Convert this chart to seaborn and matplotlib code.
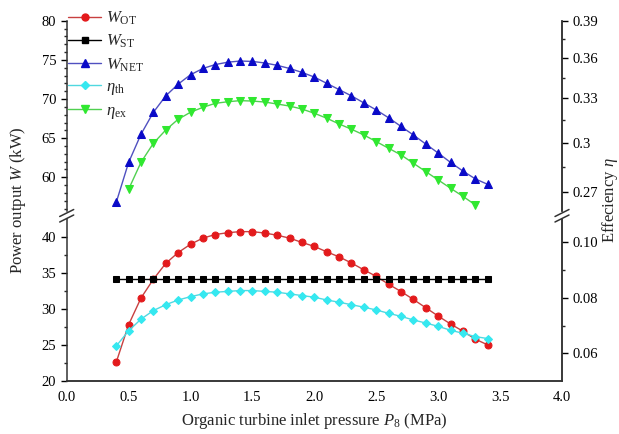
import matplotlib
matplotlib.use("Agg")
import matplotlib.pyplot as plt
from matplotlib.lines import Line2D
from matplotlib.ticker import FixedLocator, FixedFormatter, MultipleLocator, NullFormatter
import seaborn as sns
import pandas as pd

# ---- data ----
pressure = [0.4, 0.5, 0.6, 0.7, 0.8, 0.9, 1.0, 1.1, 1.2, 1.3, 1.4, 1.5, 1.6, 1.7, 1.8, 1.9,
            2.0, 2.1, 2.2, 2.3, 2.4, 2.5, 2.6, 2.7, 2.8, 2.9, 3.0, 3.1, 3.2, 3.3, 3.4]
pressure_ex = [0.5, 0.6, 0.7, 0.8, 0.9, 1.0, 1.1, 1.2, 1.3, 1.4, 1.5, 1.6, 1.7, 1.8, 1.9,
               2.0, 2.1, 2.2, 2.3, 2.4, 2.5, 2.6, 2.7, 2.8, 2.9, 3.0, 3.1, 3.2, 3.3]
W_OT = [22.6, 27.8, 31.5, 34.1, 36.3, 37.8, 38.95, 39.8, 40.3, 40.55, 40.7, 40.7, 40.5, 40.2,
        39.8, 39.2, 38.65, 37.9, 37.2, 36.35, 35.4, 34.5, 33.4, 32.4, 31.3, 30.15, 29.0, 27.9,
        26.9, 25.8, 25.0]
W_ST = [34.1, 34.1, 34.1, 34.1, 34.1, 34.1, 34.1, 34.1, 34.1, 34.1, 34.1, 34.1, 34.1, 34.1,
        34.1, 34.1, 34.1, 34.1, 34.1, 34.1, 34.1, 34.1, 34.1, 34.1, 34.1, 34.1, 34.1, 34.1,
        34.1, 34.1, 34.1]
W_NET = [56.8, 61.9, 65.5, 68.3, 70.4, 71.9, 73.1, 73.9, 74.4, 74.7, 74.85, 74.8, 74.6, 74.3,
         73.9, 73.4, 72.8, 72.0, 71.2, 70.4, 69.5, 68.6, 67.6, 66.5, 65.4, 64.25, 63.1, 61.9,
         60.8, 59.8, 59.1]
eta_th = [0.0626, 0.0681, 0.0723, 0.0754, 0.0775, 0.0792, 0.0804, 0.0814, 0.0820, 0.0823,
          0.0826, 0.0826, 0.0823, 0.0820, 0.0814, 0.0808, 0.0802, 0.0792, 0.0784, 0.0775,
          0.0766, 0.0756, 0.0744, 0.0733, 0.0720, 0.0709, 0.0697, 0.0683, 0.0672, 0.0660, 0.0653]
eta_ex = [0.2714, 0.2876, 0.2996, 0.3083, 0.3155, 0.3203, 0.3237, 0.3265, 0.3276, 0.3284,
          0.3281, 0.3274, 0.3260, 0.3246, 0.3225, 0.3196, 0.3162, 0.3123, 0.3088, 0.3050,
          0.3007, 0.2964, 0.2922, 0.2870, 0.2819, 0.2769, 0.2720, 0.2673, 0.2624]

x_ticks = [0.0, 0.5, 1.0, 1.5, 2.0, 2.5, 3.0, 3.5, 4.0]
upper_left_ticks = [60, 65, 70, 75, 80]
lower_left_ticks = [20, 25, 30, 35, 40]
upper_right_ticks = [0.27, 0.3, 0.33, 0.36, 0.39]
upper_right_labels = ["0.27", "0.3", "0.33", "0.36", "0.39"]
lower_right_ticks = [0.06, 0.08, 0.10]
lower_right_labels = ["0.06", "0.08", "0.10"]

# ---- style ----
sns.set_theme(style="white")
plt.rcParams["font.family"] = ["Liberation Serif", "DejaVu Serif"]
plt.rcParams["mathtext.fontset"] = "custom"
plt.rcParams["mathtext.rm"] = "Liberation Serif"
plt.rcParams["mathtext.it"] = "Liberation Serif:italic"
plt.rcParams["mathtext.bf"] = "Liberation Serif:bold"
plt.rcParams["axes.linewidth"] = 1.1

W_fig, H_fig = 619, 434
fig = plt.figure(figsize=(W_fig / 100, H_fig / 100), dpi=100)

x0, x1 = 66.7, 562.0
def fx(px):
    return px / W_fig
def fy(py):
    return 1 - py / H_fig

up_top, up_bot = 20.7, 211.0
lo_top, lo_bot = 219.0, 381.0
ax_up = fig.add_axes([fx(x0), fy(up_bot), fx(x1) - fx(x0), fy(up_top) - fy(up_bot)])
ax_lo = fig.add_axes([fx(x0), fy(lo_bot), fx(x1) - fx(x0), fy(lo_top) - fy(lo_bot)])
ax_up_r = ax_up.twinx()
ax_lo_r = ax_lo.twinx()

c_red, c_red_line = "#e31a1c", "#c84040"
c_blk = "#000000"
c_blu, c_blu_line = "#0a0ac8", "#5050c0"
c_cyn, c_cyn_line = "#35e8f0", "#50d8e0"
c_grn, c_grn_line = "#30e830", "#50d050"

df = pd.DataFrame({"P": pressure, "W_OT": W_OT, "W_ST": W_ST, "W_NET": W_NET, "eta_th": eta_th})
df_ex = pd.DataFrame({"P": pressure_ex, "eta_ex": eta_ex})

ms = 5
sns.lineplot(data=df, x="P", y="W_OT", ax=ax_lo, color=c_red_line, lw=1.0, marker="o",
             markersize=ms, markerfacecolor=c_red, markeredgecolor=c_red, zorder=3)
sns.lineplot(data=df, x="P", y="W_ST", ax=ax_lo, color=c_blk, lw=1.0, marker="s",
             markersize=ms - 0.5, markerfacecolor=c_blk, markeredgecolor=c_blk, zorder=3)
sns.lineplot(data=df, x="P", y="W_NET", ax=ax_up, color=c_blu_line, lw=1.0, marker="^",
             markersize=ms + 0.5, markerfacecolor=c_blu, markeredgecolor=c_blu, zorder=3)
sns.lineplot(data=df, x="P", y="eta_th", ax=ax_lo_r, color=c_cyn_line, lw=1.0, marker="D",
             markersize=ms - 0.5, markerfacecolor=c_cyn, markeredgecolor=c_cyn, zorder=3)
sns.lineplot(data=df_ex, x="P", y="eta_ex", ax=ax_up_r, color=c_grn_line, lw=1.0, marker="v",
             markersize=ms + 0.5, markerfacecolor=c_grn, markeredgecolor=c_grn, zorder=3)

for a in (ax_up, ax_lo, ax_up_r, ax_lo_r):
    a.set_xlim(0.0, 4.0)
    a.set_xlabel("")
    a.set_ylabel("")
    a.patch.set_alpha(0)
    a.tick_params(direction="out", length=4, width=1.0, labelsize=10.5, colors="black")
    a.tick_params(which="minor", direction="out", length=2.5, width=1.0)
    for s in a.spines.values():
        s.set_color("#333333")

# upper axes
ax_up.set_ylim(55.7, 80)
ax_up.yaxis.set_major_locator(FixedLocator(upper_left_ticks))
ax_up.yaxis.set_minor_locator(MultipleLocator(2.5))
ax_up.spines["top"].set_visible(False)
ax_up.spines["bottom"].set_visible(False)
ax_up.tick_params(axis="x", which="both", bottom=False, labelbottom=False)
ax_up.minorticks_on()
ax_up.tick_params(axis="x", which="minor", bottom=False)

ax_up_r.set_yscale("log")
ax_up_r.set_ylim(0.2590, 0.39)
ax_up_r.yaxis.set_major_locator(FixedLocator(upper_right_ticks))
ax_up_r.yaxis.set_major_formatter(FixedFormatter(upper_right_labels))
ax_up_r.yaxis.set_minor_locator(FixedLocator([0.285, 0.315, 0.345, 0.375]))
ax_up_r.yaxis.set_minor_formatter(NullFormatter())
ax_up_r.spines["top"].set_visible(False)
ax_up_r.spines["bottom"].set_visible(False)
ax_up_r.spines["left"].set_visible(False)
ax_up_r.tick_params(axis="x", which="both", bottom=False, labelbottom=False)

# lower axes
ax_lo.set_ylim(20, 42.45)
ax_lo.yaxis.set_major_locator(FixedLocator(lower_left_ticks))
ax_lo.yaxis.set_minor_locator(MultipleLocator(2.5))
ax_lo.xaxis.set_major_locator(FixedLocator(x_ticks))
ax_lo.xaxis.set_major_formatter(FixedFormatter([f"{v:.1f}" for v in x_ticks]))
ax_lo.xaxis.set_minor_locator(MultipleLocator(0.25))
ax_lo.spines["top"].set_visible(False)

ax_lo_r.set_ylim(0.05, 0.1084)
ax_lo_r.yaxis.set_major_locator(FixedLocator(lower_right_ticks))
ax_lo_r.yaxis.set_major_formatter(FixedFormatter(lower_right_labels))
ax_lo_r.yaxis.set_minor_locator(FixedLocator([0.07, 0.09]))
ax_lo_r.spines["top"].set_visible(False)
ax_lo_r.spines["left"].set_visible(False)
ax_lo_r.tick_params(axis="x", which="both", bottom=False)

# break marks
for xc in (x0, x1):
    for yc in (213.0, 218.5):
        fig.add_artist(Line2D([fx(xc - 7), fx(xc + 7)], [fy(yc + 3.5), fy(yc - 3.5)],
                              transform=fig.transFigure, color="#333333", lw=1.1))

# axis labels
fig.text(fx(314), fy(421), r"Organic turbine inlet pressure $P_{\rm 8}$ (MPa)",
         ha="center", va="center", fontsize=12)
fig.text(fx(18), fy(200), r"Power output $W$ (kW)", rotation=90,
         ha="center", va="center", fontsize=12)
fig.text(fx(610), fy(200), r"Effeciency $\eta$", rotation=90,
         ha="center", va="center", fontsize=12)

# legend
handles = [
    Line2D([], [], color=c_red_line, lw=1.0, marker="o", markersize=ms, markerfacecolor=c_red, markeredgecolor=c_red),
    Line2D([], [], color=c_blk, lw=1.0, marker="s", markersize=ms - 0.5, markerfacecolor=c_blk, markeredgecolor=c_blk),
    Line2D([], [], color=c_blu_line, lw=1.0, marker="^", markersize=ms + 0.5, markerfacecolor=c_blu, markeredgecolor=c_blu),
    Line2D([], [], color=c_cyn_line, lw=1.0, marker="D", markersize=ms - 0.5, markerfacecolor=c_cyn, markeredgecolor=c_cyn),
    Line2D([], [], color=c_grn_line, lw=1.0, marker="v", markersize=ms + 0.5, markerfacecolor=c_grn, markeredgecolor=c_grn),
]
labels = [r"$W_{\rm OT}$", r"$W_{\rm ST}$", r"$W_{\rm NET}$", r"$\eta_{\rm th}$", r"$\eta_{\rm ex}$"]
fig.legend(handles, labels, loc="upper left", bbox_to_anchor=(fx(68), fy(10)),
           frameon=False, fontsize=12, handlelength=2.0, handletextpad=0.25,
           labelspacing=0.34, borderpad=0.0, borderaxespad=0.0)

fig.savefig("out.png", dpi=100)
